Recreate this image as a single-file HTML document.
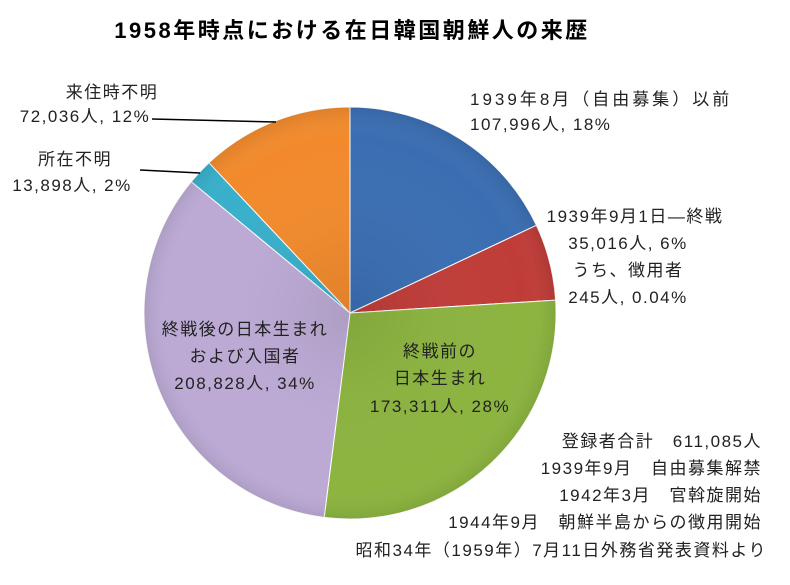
<!DOCTYPE html>
<html><head><meta charset="utf-8"><style>
body{margin:0;background:#fff;}
svg text{font-family:"Liberation Sans","Noto Sans CJK JP",sans-serif;fill:#222;}
</style></head><body>
<svg width="790" height="580" viewBox="0 0 790 580" xmlns="http://www.w3.org/2000/svg">
<defs>
<radialGradient id="g" cx="350" cy="313" r="206" gradientUnits="userSpaceOnUse">
<stop offset="0" stop-color="#000" stop-opacity="0.08"/>
<stop offset="0.85" stop-color="#fff" stop-opacity="0"/>
<stop offset="1" stop-color="#000" stop-opacity="0.08"/>
</radialGradient>
</defs>
<text x="352" y="38" text-anchor="middle" font-size="22" font-weight="bold" letter-spacing="2.5" style="fill:#000">1958年時点における在日韓国朝鮮人の来歴</text>
<g stroke="#fff" stroke-width="1">
<path d="M350,313 L350,107 A206,206 0 0 1 536.4,225.3 Z" fill="#3a6eb2"/>
<path d="M350,313 L536.4,225.3 A206,206 0 0 1 555.6,300.1 Z" fill="#c03c38"/>
<path d="M350,313 L555.6,300.1 A206,206 0 0 1 324.2,517.4 Z" fill="#8cb43f"/>
<path d="M350,313 L324.2,517.4 A206,206 0 0 1 191.3,181.7 Z" fill="#bcaad5"/>
<path d="M350,313 L191.3,181.7 A206,206 0 0 1 209,162.8 Z" fill="#38afcb"/>
<path d="M350,313 L209,162.8 A206,206 0 0 1 350,107 Z" fill="#f28a2c"/>
</g>
<circle cx="350" cy="313" r="206" fill="url(#g)"/>
<g stroke="#000" stroke-width="1.5" fill="none">
<path d="M152,119 L276,122"/>
<path d="M140,170 L200,173"/>
</g>
<g font-size="17" letter-spacing="1.5">
<text x="112" y="98" text-anchor="middle">来住時不明</text>
<text x="85" y="122" text-anchor="middle">72,036人, 12%</text>
<text x="75" y="165" text-anchor="middle">所在不明</text>
<text x="72" y="191" text-anchor="middle">13,898人, 2%</text>
<text x="470" y="105" letter-spacing="3">1939年8月（自由募集）以前</text>
<text x="470" y="130">107,996人, 18%</text>
<text x="635" y="222" text-anchor="middle">1939年9月1日—終戦</text>
<text x="628" y="249" text-anchor="middle">35,016人, 6%</text>
<text x="628" y="276" text-anchor="middle">うち、徴用者</text>
<text x="628" y="303" text-anchor="middle">245人, 0.04%</text>
<text x="245" y="335" text-anchor="middle">終戦後の日本生まれ</text>
<text x="245" y="362" text-anchor="middle">および入国者</text>
<text x="245" y="389" text-anchor="middle">208,828人, 34%</text>
<text x="440" y="357" text-anchor="middle">終戦前の</text>
<text x="440" y="384" text-anchor="middle">日本生まれ</text>
<text x="440" y="412" text-anchor="middle">173,311人, 28%</text>
<text x="762" y="447" text-anchor="end">登録者合計　611,085人</text>
<text x="762" y="474" text-anchor="end">1939年9月　自由募集解禁</text>
<text x="762" y="501" text-anchor="end">1942年3月　官斡旋開始</text>
<text x="762" y="528" text-anchor="end">1944年9月　朝鮮半島からの徴用開始</text>
<text x="767" y="556" text-anchor="end">昭和34年（1959年）7月11日外務省発表資料より</text>
</g>
</svg>
</body></html>
